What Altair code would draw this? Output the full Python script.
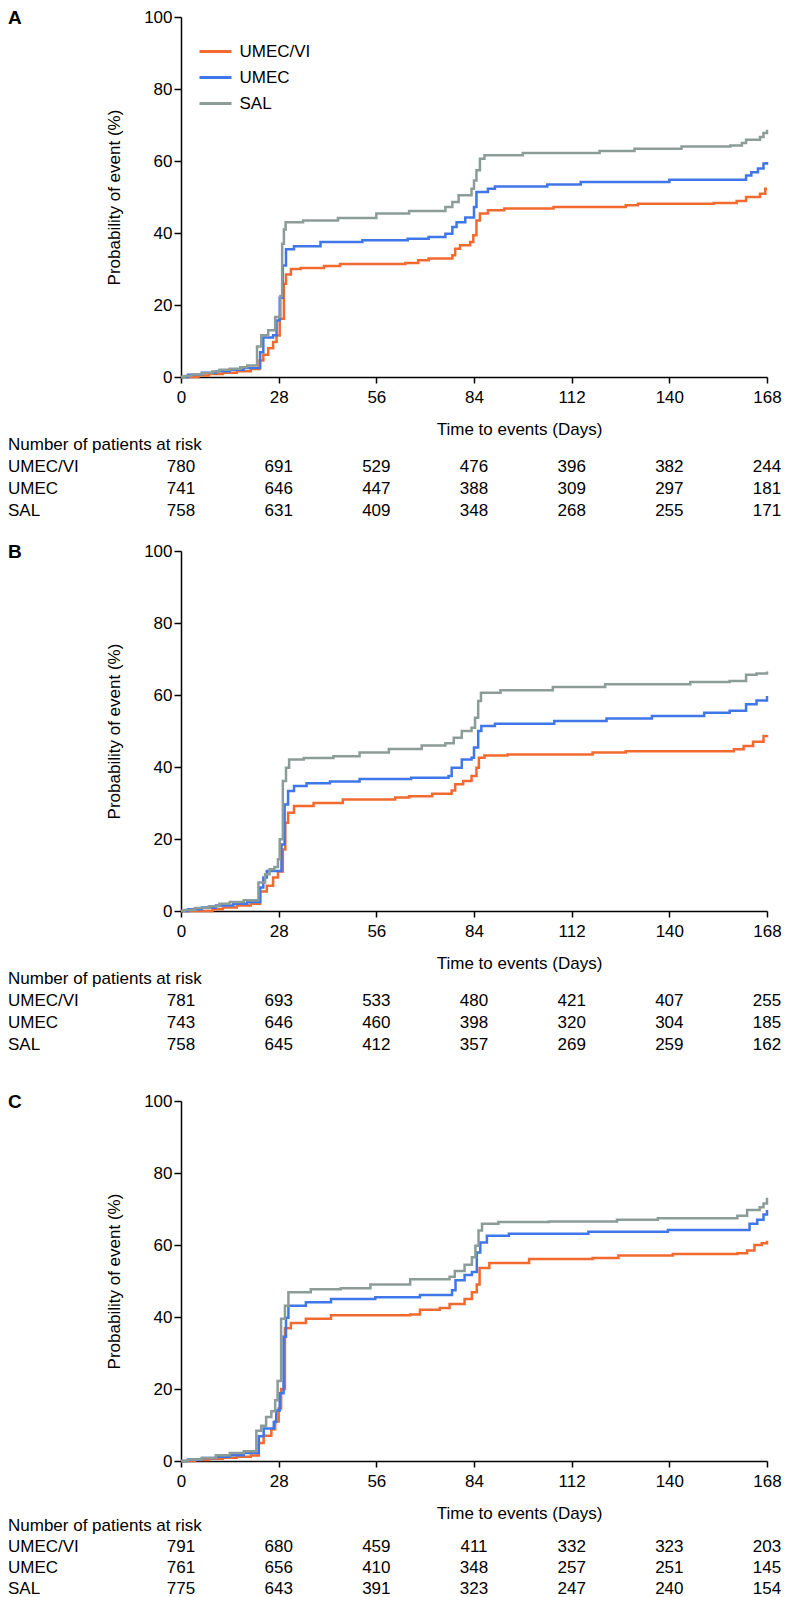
import altair as alt
import pandas as pd

FONT = "Liberation Sans"
ARMS = ["UMEC/VI", "UMEC", "SAL"]
COLORS = ["#F26A30", "#3F76E8", "#8C9C98"]
TICKS = [0, 28, 56, 84, 112, 140, 168]
Y_TICKS = [0, 20, 40, 60, 80, 100]

# ---------------- Panel A ----------------
A_VI_days = [0, 5, 8, 12, 16, 20, 22.5, 23.6, 25, 26.4, 27.4, 28.3, 29.5, 30.1, 31.5, 34.3, 41, 45.6, 64.3, 68, 71, 77.8, 78.6, 80, 82.9, 83.8, 84.7, 85.7, 88, 92.7, 106.8, 127.5, 131, 152.7, 159.3, 162, 166, 167.5, 168]
A_VI_prob = [0, 0.4, 0.8, 1.2, 1.6, 2.2, 4.6, 6.2, 8.0, 9.7, 11.5, 16.2, 25.9, 28.5, 30.0, 30.3, 30.8, 31.4, 31.7, 32.4, 32.9, 33.8, 35.6, 36.6, 37.5, 39.4, 43.5, 45.4, 46.3, 46.8, 47.2, 47.7, 48.1, 48.3, 48.9, 50.0, 50.9, 52.3, 52.3]
A_UMEC_days = [0, 2, 6, 10, 14, 18, 22.7, 23.6, 26.4, 27.4, 28.3, 29.2, 30.1, 32.4, 40, 52, 65, 71, 75.8, 77.8, 79, 81.5, 84, 84.7, 88, 90, 105, 114.6, 140, 162, 163.5, 165.4, 167, 168]
A_UMEC_prob = [0, 0.6, 1.2, 1.6, 2.0, 2.5, 6.9, 11.0, 11.6, 15.7, 22.0, 31.0, 35.5, 36.3, 37.5, 38.0, 38.4, 38.9, 39.8, 41.7, 43.0, 44.3, 47.2, 51.4, 52.3, 52.9, 53.5, 54.2, 54.8, 56.0, 56.9, 57.9, 59.3, 59.7]
A_SAL_days = [0, 1, 3, 6, 9, 11, 14, 17, 19, 21.8, 23, 25, 27, 28.5, 29, 29.5, 30, 35, 45, 56, 65.4, 75.8, 77.8, 79.6, 83.3, 84, 84.7, 85.7, 87, 98, 120, 130, 143.5, 157.5, 160.8, 162, 166, 167, 168]
A_SAL_prob = [0, 0.3, 0.7, 1.1, 1.5, 2.0, 2.3, 2.7, 3.2, 8.5, 11.6, 13.0, 16.7, 22.5, 37.0, 41.0, 43.0, 43.5, 44.2, 45.4, 46.1, 47.2, 48.6, 50.5, 52.3, 54.6, 57.4, 60.6, 61.6, 62.2, 62.8, 63.4, 64.0, 64.3, 65.0, 65.9, 66.7, 67.8, 68.7]
A_RISK_VI = [780, 691, 529, 476, 396, 382, 244]
A_RISK_UMEC = [741, 646, 447, 388, 309, 297, 181]
A_RISK_SAL = [758, 631, 409, 348, 268, 255, 171]

# ---------------- Panel B ----------------
B_VI_days = [0, 9, 12, 16, 20, 22.7, 24.6, 26.4, 27.8, 29.2, 29.9, 30.7, 32.4, 38, 46.4, 61.4, 65.4, 72, 77.6, 78.6, 80.9, 83.3, 84.7, 85.4, 87, 93.6, 118, 127.5, 158.5, 161.3, 164, 167, 168]
B_VI_prob = [0, 0.5, 1.0, 1.5, 2.0, 5.4, 7.0, 9.3, 11.0, 17.1, 24.5, 27.3, 29.2, 30.0, 31.0, 31.5, 31.9, 32.6, 33.5, 35.2, 36.1, 37.5, 39.8, 42.6, 43.2, 43.5, 44.0, 44.4, 44.9, 45.8, 47.0, 48.6, 48.9]
B_UMEC_days = [0, 2, 6, 10, 15, 19, 22.7, 23.6, 24.6, 28.8, 29.7, 30.7, 32.4, 36, 42.7, 51.2, 66, 76.7, 77.6, 80.5, 83.3, 84, 85.2, 86.1, 90, 107, 122, 135, 150, 157.3, 162, 165, 168]
B_UMEC_prob = [0, 0.5, 1.0, 1.5, 2.0, 2.5, 6.5, 9.3, 11.1, 18.5, 29.6, 33.3, 34.7, 35.5, 36.0, 36.7, 37.0, 37.5, 39.8, 42.1, 42.6, 45.4, 50.0, 51.4, 52.0, 52.8, 53.5, 54.2, 55.1, 55.6, 57.4, 58.5, 59.7]
B_SAL_days = [0, 1, 4, 8, 11, 14, 18, 22.2, 24.1, 25.4, 26.8, 27.8, 28.3, 29.2, 30.1, 31, 35.2, 43.7, 51.2, 59.6, 69, 75.8, 78.2, 80.5, 83.3, 84.3, 85.2, 86, 91.6, 106.6, 121.6, 146, 157.3, 162, 165, 168]
B_SAL_prob = [0, 0.3, 0.8, 1.3, 2.0, 2.5, 3.0, 7.9, 10.2, 11.6, 12.2, 14.4, 19.9, 36.1, 39.8, 42.1, 42.5, 43.0, 44.0, 45.0, 46.0, 46.6, 48.1, 50.0, 50.9, 53.7, 58.3, 60.6, 61.3, 62.2, 63.0, 63.6, 63.9, 65.6, 66.0, 66.5]
B_RISK_VI = [781, 693, 533, 480, 421, 407, 255]
B_RISK_UMEC = [743, 646, 460, 398, 320, 304, 185]
B_RISK_SAL = [758, 645, 412, 357, 269, 259, 162]

# ---------------- Panel C ----------------
C_VI_days = [0, 4, 8, 12, 16, 20, 22.3, 23.7, 25.9, 27, 28, 28.7, 29.8, 31.5, 35.8, 43, 65.7, 68.5, 74.2, 77, 81.3, 83.4, 84.8, 85.6, 88.4, 99.8, 118, 125.4, 141, 159.5, 162.3, 164.4, 166.5, 168]
C_VI_prob = [0, 0.3, 0.6, 0.9, 1.2, 1.5, 5.0, 7.0, 8.8, 11.0, 14.6, 20.0, 36.9, 38.3, 39.5, 40.5, 40.7, 42.0, 42.5, 43.6, 45.0, 46.9, 49.0, 53.6, 55.0, 56.1, 56.4, 57.1, 57.5, 57.7, 58.5, 60.0, 60.5, 61.2]
C_UMEC_days = [0, 2, 6, 10, 14, 18, 22.3, 23.7, 26.6, 27.3, 28.3, 29.4, 30.1, 30.8, 35.8, 43, 55.7, 68.5, 77.7, 78.7, 81.3, 83.4, 84.8, 85.8, 87.7, 94, 116.8, 139.6, 163, 165.2, 167, 168]
C_UMEC_prob = [0, 0.4, 0.8, 1.2, 1.6, 2.2, 6.9, 9.0, 10.8, 14.0, 18.8, 34.5, 39.8, 43.1, 44.1, 45.0, 45.5, 46.1, 47.4, 50.2, 51.7, 52.5, 57.9, 60.7, 62.6, 63.1, 63.7, 64.2, 65.9, 67.0, 68.5, 69.7]
C_SAL_days = [0, 2, 6, 10, 14, 18, 21.6, 23, 24.4, 25.9, 27, 27.7, 28.7, 29.8, 30.8, 37.2, 45.8, 54.3, 65.7, 77, 78.5, 81.3, 83.4, 84.4, 85.3, 86.3, 91, 105.5, 125, 136.7, 159.5, 162.3, 165.9, 167, 168]
C_SAL_prob = [0, 0.4, 0.8, 1.6, 2.2, 2.7, 8.4, 9.8, 12.2, 13.8, 16.9, 22.2, 39.5, 43.1, 46.9, 47.7, 48.0, 49.0, 50.5, 51.2, 52.8, 54.5, 56.6, 59.8, 64.0, 65.9, 66.4, 66.5, 67.0, 67.4, 68.1, 69.7, 70.5, 71.5, 73.1]
C_RISK_VI = [791, 680, 459, 411, 332, 323, 203]
C_RISK_UMEC = [761, 656, 410, 348, 257, 251, 145]
C_RISK_SAL = [775, 643, 391, 323, 247, 240, 154]

RISK_HEADER = "Number of patients at risk"
X_TITLE = "Time to events (Days)"
Y_TITLE = "Probability of event (%)"

W, H = 586, 360
LEFT = -173


def panel(letter, curves, risk, show_legend, header_y, row_y):
    recs = []
    for arm in ARMS:
        days, probs = curves[arm]
        for i, (d, p) in enumerate(zip(days, probs)):
            recs.append({"arm": arm, "day": d, "prob": p, "idx": i})
    df = pd.DataFrame(recs)

    xs = alt.Scale(domain=[0, 168], nice=False, zero=False)
    ys = alt.Scale(domain=[0, 100], nice=False)
    xaxis = alt.Axis(values=TICKS, format="d", title=X_TITLE, titleX=338, titleY=52,
                     titleAlign="center", titleBaseline="middle", titleFontSize=17,
                     titleFontWeight="normal", titleFont=FONT, titleColor="black",
                     domainColor="black", domainWidth=1.5, tickColor="black", tickWidth=1.5,
                     tickSize=6, labelFontSize=17, labelColor="black", labelFont=FONT,
                     labelPadding=6.5, labelFlush=False, labelOverlap=False, grid=False)
    yaxis = alt.Axis(values=Y_TICKS, title=Y_TITLE, titleX=-67, titleY=180, titleAngle=270,
                     titleAlign="center", titleBaseline="middle", titleFontSize=17,
                     titleFontWeight="normal", titleFont=FONT, titleColor="black",
                     domainColor="black", domainWidth=1.5, tickColor="black", tickWidth=1.5,
                     tickSize=7, labelFontSize=17, labelColor="black", labelFont=FONT,
                     labelPadding=2, labelOverlap=False, grid=False)
    if show_legend:
        legend = alt.Legend(orient="none", legendX=26, legendY=26, title=None,
                            symbolType="M-3.2,0H3.2", symbolSize=100, symbolStrokeWidth=3,
                            labelFontSize=17, labelFont=FONT, labelColor="black",
                            labelOffset=15.5, rowPadding=8, padding=0)
    else:
        legend = None
    color = alt.Color("arm:N", scale=alt.Scale(domain=ARMS, range=COLORS), legend=legend)

    layers = []
    for arm in ARMS:
        layers.append(
            alt.Chart(df).transform_filter(alt.datum.arm == arm)
            .mark_line(interpolate="step-after", strokeWidth=2.5)
            .encode(x=alt.X("day:Q", scale=xs, axis=xaxis),
                    y=alt.Y("prob:Q", scale=ys, axis=yaxis),
                    color=color, order="idx:Q")
        )

    # panel letter
    layers.append(
        alt.Chart(pd.DataFrame({"t": [letter]})).mark_text(
            font=FONT, fontSize=19, fontWeight="bold", align="left", baseline="middle", color="black"
        ).encode(x=alt.value(LEFT), y=alt.value(1), text="t:N")
    )
    # risk header
    layers.append(
        alt.Chart(pd.DataFrame({"t": [RISK_HEADER]})).mark_text(
            font=FONT, fontSize=17, align="left", baseline="middle", color="black"
        ).encode(x=alt.value(LEFT), y=alt.value(header_y), text="t:N")
    )
    for arm, yrow in zip(ARMS, row_y):
        layers.append(
            alt.Chart(pd.DataFrame({"t": [arm]})).mark_text(
                font=FONT, fontSize=17, align="left", baseline="middle", color="black"
            ).encode(x=alt.value(LEFT), y=alt.value(yrow), text="t:N")
        )
        rdf = pd.DataFrame({"day": TICKS, "n": risk[arm]})
        layers.append(
            alt.Chart(rdf).mark_text(
                font=FONT, fontSize=17, align="center", baseline="middle", color="black"
            ).encode(x=alt.X("day:Q", scale=xs, axis=xaxis), y=alt.value(yrow), text="n:Q")
        )
    return alt.layer(*layers).properties(width=W, height=H)


ROWS_AB = [449.5, 471.5, 493.5]
ROWS_C = [446, 467, 488]

pA = panel("A", {"UMEC/VI": (A_VI_days, A_VI_prob), "UMEC": (A_UMEC_days, A_UMEC_prob),
                 "SAL": (A_SAL_days, A_SAL_prob)},
           {"UMEC/VI": A_RISK_VI, "UMEC": A_RISK_UMEC, "SAL": A_RISK_SAL}, True, 427.5, ROWS_AB)
pB = panel("B", {"UMEC/VI": (B_VI_days, B_VI_prob), "UMEC": (B_UMEC_days, B_UMEC_prob),
                 "SAL": (B_SAL_days, B_SAL_prob)},
           {"UMEC/VI": B_RISK_VI, "UMEC": B_RISK_UMEC, "SAL": B_RISK_SAL}, False, 427.5, ROWS_AB)
pC = panel("C", {"UMEC/VI": (C_VI_days, C_VI_prob), "UMEC": (C_UMEC_days, C_UMEC_prob),
                 "SAL": (C_SAL_days, C_SAL_prob)},
           {"UMEC/VI": C_RISK_VI, "UMEC": C_RISK_UMEC, "SAL": C_RISK_SAL}, False, 425, ROWS_C)

inner = alt.vconcat(pA, pB, spacing=23).resolve_scale(color="independent")
chart = (
    alt.vconcat(inner, pC, spacing=39)
    .resolve_scale(color="independent")
    .properties(padding={"left": 0, "top": 0, "right": 0, "bottom": 0}, background="white")
    .configure_view(stroke=None)
)

chart.save("out.html", embed_options={"renderer": "svg", "actions": False})
